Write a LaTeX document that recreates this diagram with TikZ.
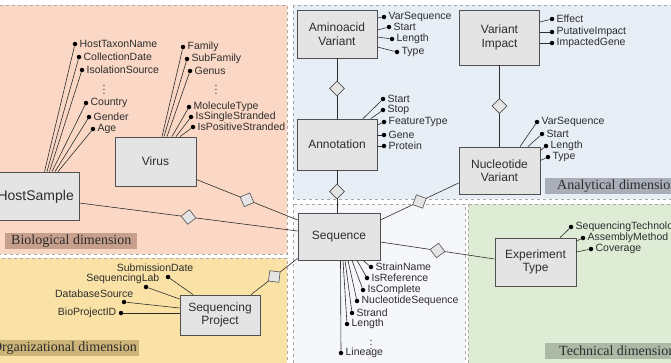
\documentclass[tikz,border=0pt]{standalone}
\usepackage{fontspec}
\setmainfont{Liberation Sans}
\newfontfamily\dimfont{Liberation Serif}
\usetikzlibrary{positioning, shapes.geometric}
\definecolor{bioPeach}{HTML}{FAD8C5}
\definecolor{bioLabel}{HTML}{C6A08C}
\definecolor{orgYellow}{HTML}{FAE2A6}
\definecolor{orgLabel}{HTML}{CDB478}
\definecolor{anaBlue}{HTML}{E8EEF6}
\definecolor{anaLabel}{HTML}{AAAEB8}
\definecolor{seqWhite}{HTML}{F5F7FA}
\definecolor{tecGreen}{HTML}{DEECD6}
\definecolor{tecLabel}{HTML}{ACB9A5}
\definecolor{boxFill}{HTML}{E4E4E4}
\definecolor{boxLine}{HTML}{505050}
\definecolor{panelLine}{HTML}{A8A8A8}
\definecolor{textDark}{HTML}{2D2D2D}

\begin{document}
\begin{tikzpicture}[x=1pt, y=-1pt,
    entity/.style={rectangle, draw=boxLine, fill=boxFill, line width=0.8pt,
                   minimum width=80pt, minimum height=48pt, align=center,
                   font=\fontsize{12}{13.5}\selectfont\color{textDark}},
    rel/.style={diamond, draw=boxLine, fill=boxFill, line width=0.6pt,
                minimum size=15pt, inner sep=0pt, sloped},
    dot/.style={circle, fill=black, minimum size=4.5pt, inner sep=0pt},
    attr/.style={font=\fontsize{10.5}{11}\selectfont\color{textDark}, inner sep=0.5pt},
    link/.style={draw=textDark, line width=0.6pt},
    panel/.style={fill=#1, draw=panelLine, dashed, line width=0.7pt},
    dim/.style={fill=#1, font=\dimfont\fontsize{14}{15}\selectfont\color{textDark},
                minimum height=16pt, inner ysep=0pt, inner xsep=6pt},
  ]
    \useasboundingbox (0,0) rectangle (671,362);
    \clip (0,0) rectangle (671,362);

    % dimensions
    \draw[panel=bioPeach] (-5,5) rectangle (287,254);
    \draw[panel=orgYellow] (-5,258) rectangle (287,367);
    \draw[panel=anaBlue] (293,5) rectangle (676,199);
    \draw[panel=seqWhite] (293,204) rectangle (465,367);
    \draw[panel=tecGreen] (468,204) rectangle (676,367);

    \node[dim=bioLabel, anchor=west] (biolab) at (5,241) {Biological dimension};
    \node[dim=orgLabel, anchor=east, inner xsep=2pt] (orglab) at (139,348) {Organizational dimension};
    \node[dim=anaLabel, anchor=west, inner xsep=12pt] (analab) at (545,186) {Analytical dimension};
    \node[dim=tecLabel, anchor=west, inner xsep=14pt] (teclab) at (545,351) {Technical dimension};

    % entities
    \node[entity, minimum width=89pt] (hs) at (34.5,196) {};
    \node[font=\fontsize{14}{15}\selectfont\color{textDark}, anchor=east, inner sep=0pt] (hslabel) at (74,197) {HostSample};
    \node[entity, minimum width=81pt, minimum height=49pt] (vir) at (155.5,161.5) {Virus};
    \node[entity] (aa) at (337,34) {Aminoacid\\Variant};
    \node[entity, minimum height=55pt] (imp) at (499.5,37.5) {Variant\\Impact};
    \node[entity, minimum height=51pt] (an) at (337,144.5) {Annotation};
    \node[entity, minimum width=81pt, minimum height=47pt] (nv) at (499.5,170.5) {Nucleotide\\Variant};
    \node[entity, minimum width=82pt, minimum height=47pt] (seq) at (339,236.5) {Sequence};
    \node[entity, minimum width=81pt] (exp) at (535.5,262) {Experiment\\Type};
    \node[entity, minimum height=40pt] (sp) at (220,315) {Sequencing\\Project};

    % relationships
    \draw[link] ([yshift=-7]hs.east) -- node[rel] (rhs) {} ([yshift=5.5]seq.west);
    \draw[link] ([yshift=-18]vir.east) -- node[rel] (rvir) {} ([yshift=16.5]seq.west);
    \draw[link] ([xshift=31]sp.north) -- node[rel] (rsp) {} ([yshift=2]seq.south west);
    \draw[link] (aa.south) -- node[rel] (raa) {} (an.north);
    \draw[link] (an.south) -- node[rel] (ran) {} (seq.north -| an.south);
    \draw[link] (imp.south) -- node[rel] (rimp) {} (nv.north);
    \draw[link] ([yshift=16.5]seq.east) -- node[rel] (rnv) {} ([yshift=-12.5]nv.west);
    \draw[link] ([yshift=-5.5]seq.east) -- node[rel] (rexp) {} ([yshift=3]exp.west);

    % attributes
    \foreach \ent/\nm/\px/\py/\txt/\anc/\sx/\sy in {
        hs/hs1/75/44/HostTaxonName/north/10/0,
        hs/hs2/79/57/CollectionDate/north/12.5/0,
        hs/hs3/82/70/IsolationSource/north/15/0,
        hs/hs4/86/103/Country/north/17.5/0,
        hs/hs5/89/117/Gender/north/20.5/0,
        hs/hs6/93/129/Age/north/23.5/0,
        vir/v1/183/47/Family/north/6.5/0,
        vir/v2/187/59/SubFamily/north/8.5/0,
        vir/v3/190/71/Genus/north/11.5/0,
        vir/v4/189/107/MoleculeType/north/16.5/0,
        vir/v5/191/117/IsSingleStranded/north/20.5/0,
        vir/v6/193/127/IsPositiveStranded/north/24.5/0,
        aa/a1/384/17/VarSequence/east/0/16,
        aa/a2/389/27/Start/east/0/4,
        aa/a3/392/39/Length/east/0/-3,
        aa/a4/397/52/Type/east/0/-13,
        imp/i1/552/19/Effect/east/0/15.5,
        imp/i2/552/32/PutativeImpact/east/0/5.5,
        imp/i3/552/43/ImpactedGene/east/0/-5.5,
        an/n1/383/99/Start/north/26/0,
        an/n2/383/110/Stop/north/34/0,
        an/n3/384/122/FeatureType/east/0/19.5,
        an/n4/384/135/Gene/east/0/9.5,
        an/n5/384/146/Protein/east/0/-1.5,
        nv/t1/537/122/VarSequence/north/20.5/0,
        nv/t2/542/134/Start/north/28.5/0,
        nv/t3/546/146/Length/east/0/20,
        nv/t4/548/157/Type/east/0/10,
        seq/s1/371/267/StrainName/south/24/0,
        seq/s2/367/278/IsReference/south/18/0,
        seq/s3/363/290/IsComplete/south/13/0,
        seq/s4/357/301/NucleotideSequence/south/9/0,
        seq/s5/352/313/Strand/south/6/0,
        seq/s6/347/324/Length/south/4/0,
        seq/s7/341/353/Lineage/south/1.5/0,
        exp/e1/571/227/SequencingTechnology/north/24.5/0,
        exp/e2/583/238/AssemblyMethod/east/0/21,
        exp/e3/591/249/Coverage/east/0/10}
      {
        \node[dot] (\nm) at (\px,\py) {};
        \node[attr, right=1.5pt of \nm] (\nm t) {\txt};
        \draw[link] ([xshift=\sx, yshift=\sy]\ent.\anc) -- (\nm);
      }

    \node[dot] (p1) at (168,277) {};
    \node[attr, anchor=east] (p1t) at (194,268) {SubmissionDate};
    \node[dot] (p2) at (146,287) {};
    \node[attr, anchor=east] (p2t) at (160,279) {SequencingLab};
    \node[dot] (p3) at (124,302) {};
    \node[attr, anchor=east] (p3t) at (134,294) {DatabaseSource};
    \node[dot] (p4) at (121,313) {};
    \node[attr, anchor=east] (p4t) at (117,313) {BioProjectID};
    \draw[link] ([xshift=-27]sp.north) -- (p1);
    \draw[link] ([yshift=16]sp.west) -- (p2);
    \draw[link] ([yshift=7]sp.west) -- (p3);
    \draw[link] ([yshift=2]sp.west) -- (p4);

    \node[attr, inner sep=0pt] (hsdots) at (104,87) {$\vdots$};
    \node[attr, inner sep=0pt] (virdots) at (216,87) {$\vdots$};
    \node[attr, inner sep=0pt] (seqdots) at (371,342) {$\vdots$};
  \end{tikzpicture}
\end{document}
